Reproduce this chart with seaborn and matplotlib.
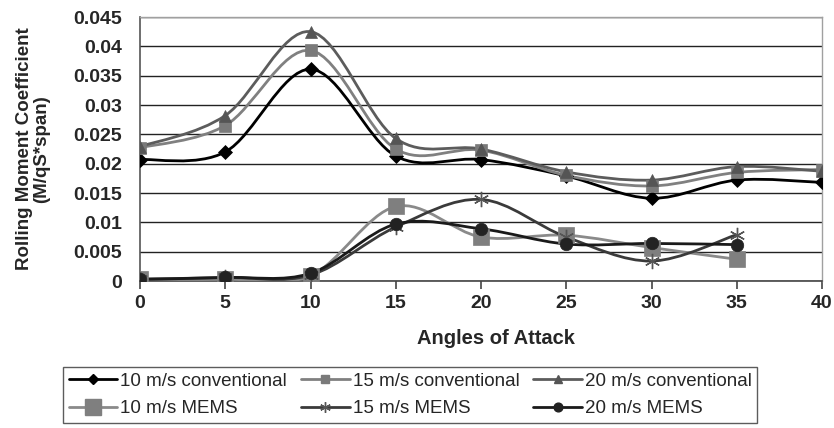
import numpy as np
import pandas as pd
import matplotlib
matplotlib.use("Agg")
import matplotlib.pyplot as plt
from matplotlib.path import Path
from matplotlib.patches import PathPatch
from matplotlib.lines import Line2D
import seaborn as sns

angles = [0, 5, 10, 15, 20, 25, 30, 35, 40]
angles_mems = [0, 5, 10, 15, 20, 25, 30, 35]

conv10 = [0.0207, 0.0220, 0.0361, 0.0213, 0.0207, 0.0179, 0.0141, 0.0172, 0.0168]
conv15 = [0.0227, 0.0265, 0.0393, 0.0225, 0.0223, 0.0180, 0.0162, 0.0185, 0.0190]
conv20 = [0.0229, 0.0282, 0.0425, 0.0243, 0.0225, 0.0186, 0.0172, 0.0195, 0.0187]
mems10 = [0.0003, 0.0003, 0.0009, 0.0127, 0.0075, 0.0078, 0.0057, 0.0037]
mems15 = [0.0003, 0.0006, 0.0010, 0.0092, 0.0139, 0.0075, 0.0034, 0.0079]
mems20 = [0.0003, 0.0006, 0.0013, 0.0097, 0.0089, 0.0063, 0.0064, 0.0062]

labels = ["10 m/s conventional", "15 m/s conventional", "20 m/s conventional",
          "10 m/s MEMS", "15 m/s MEMS", "20 m/s MEMS"]

series = [
    (angles, conv10, labels[0], "#000000", "#000000", "D", 7),
    (angles, conv15, labels[1], "#808080", "#7a7a7a", "s", 8),
    (angles, conv20, labels[2], "#5c5c5c", "#555555", "^", 9),
    (angles_mems, mems10, labels[3], "#8a8a8a", "#7f7f7f", "s", 12),
    (angles_mems, mems15, labels[4], "#3a3a3a", "#555555", (6, 2, 0), 11),
    (angles_mems, mems20, labels[5], "#1a1a1a", "#222222", "o", 9),
]

sns.set_theme(style="white")
plt.rcParams['font.family'] = ['Liberation Sans', 'DejaVu Sans']

fig = plt.figure(figsize=(8.34, 4.28), dpi=100)
ax = fig.add_axes([140/834, 1-281/428, (822-140)/834, (281-17)/428])


def smooth_path(xs, ys):
    pts = np.column_stack([xs, ys]).astype(float)
    n = len(pts)
    verts = [pts[0]]
    codes = [Path.MOVETO]
    for i in range(n - 1):
        p0 = pts[i - 1] if i > 0 else pts[i]
        p1 = pts[i]
        p2 = pts[i + 1]
        p3 = pts[i + 2] if i + 2 < n else pts[i + 1]
        c1 = p1 + (p2 - p0) / 6.0
        c2 = p2 - (p3 - p1) / 6.0
        verts += [c1, c2, p2]
        codes += [Path.CURVE4] * 3
    return Path(verts, codes)


handles = []
for xs, ys, lab, lc, mc, mk, ms in series:
    patch = PathPatch(smooth_path(xs, ys), fill=False, edgecolor=lc, lw=2.0,
                      transform=ax.transData, zorder=3)
    ax.add_patch(patch)
    df = pd.DataFrame({"x": xs, "y": ys})
    if isinstance(mk, tuple):
        sns.lineplot(data=df, x="x", y="y", ax=ax, linewidth=0, marker=mk,
                     markersize=ms, markeredgecolor=mc, markeredgewidth=1.0,
                     color=mc, zorder=4)
    else:
        sns.lineplot(data=df, x="x", y="y", ax=ax, linewidth=0, marker=mk,
                     markersize=ms, markeredgecolor=mc, markerfacecolor=mc,
                     markeredgewidth=0.5, color=mc, zorder=4)
    lms = ms * 0.7 if lab != labels[3] else ms
    handles.append(Line2D([], [], color=lc, lw=2.0, marker=mk, markersize=lms,
                          markerfacecolor=mc, markeredgecolor=mc))

ax.set_xlim(0, 40)
ax.set_ylim(0, 0.045)
ax.set_xticks(angles)
ax.set_xticklabels([str(a) for a in angles])
yt = [0, 0.005, 0.01, 0.015, 0.02, 0.025, 0.03, 0.035, 0.04, 0.045]
ax.set_yticks(yt)
ax.set_yticklabels(["0", "0.005", "0.01", "0.015", "0.02", "0.025", "0.03",
                    "0.035", "0.04", "0.045"])
ax.grid(axis="y", color="#222222", lw=1.0)
ax.grid(axis="x", visible=False)
ax.set_axisbelow(True)
for s in ["top", "right"]:
    ax.spines[s].set_color("#a0a0a0")
    ax.spines[s].set_linewidth(1.0)
ax.spines["left"].set_color("#555555")
ax.spines["bottom"].set_color("#444444")
ax.spines["left"].set_linewidth(1.2)
ax.spines["bottom"].set_linewidth(1.2)
ax.tick_params(axis="x", bottom=True, length=6, width=1.2, color="#444444",
               labelsize=14, pad=4)
ax.tick_params(axis="y", left=False, labelsize=14, pad=7)
for t in ax.get_xticklabels() + ax.get_yticklabels():
    t.set_fontweight("bold")

ax.set_xlabel("Angles of Attack", fontsize=14.5, fontweight="bold")
ax.xaxis.set_label_coords((496-140)/(822-140), -(338-281)/(281-17))
ax.xaxis.label.set_va("center")
ax.set_ylabel("Rolling Moment Coefficient\n(M/qS*span)", fontsize=13.5,
              fontweight="bold", linespacing=1.0)
ax.yaxis.set_label_coords(-(140-33)/(822-140), 0.5)
ax.yaxis.label.set_va("center")

order = [0, 3, 1, 4, 2, 5]
leg = fig.legend(handles=[handles[i] for i in order],
                 labels=[labels[i] for i in order], ncol=3,
                 loc="upper left", bbox_to_anchor=(63/834, 1-367/428),
                 frameon=True, fancybox=False, edgecolor="#333333",
                 fontsize=13.5, handlelength=2.6, handletextpad=0.15,
                 columnspacing=0.75, borderpad=0.3, labelspacing=0.55,
                 borderaxespad=0)
leg.get_frame().set_linewidth(1.0)

fig.savefig("out.png", dpi=100)
